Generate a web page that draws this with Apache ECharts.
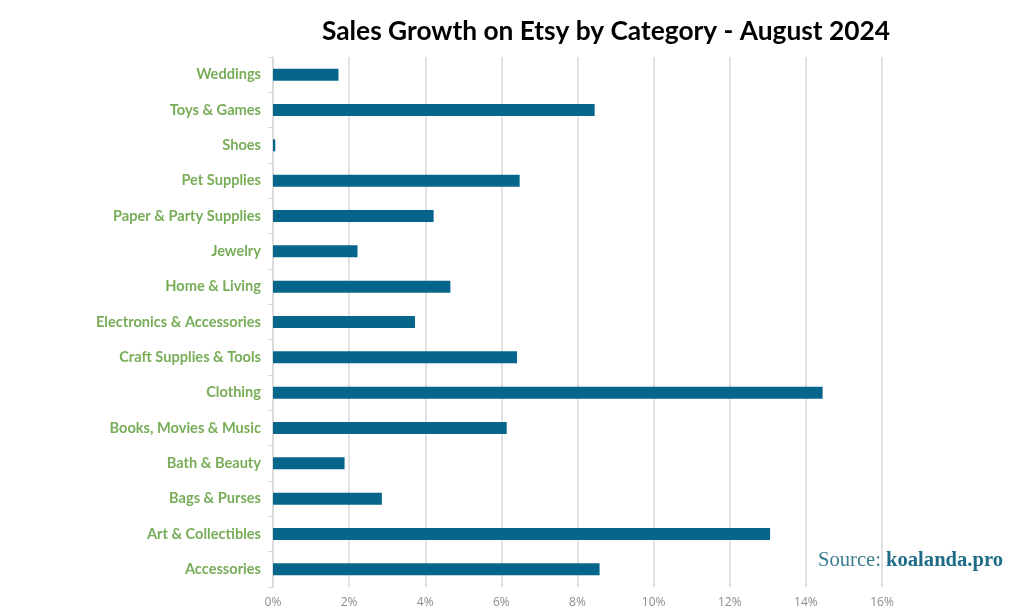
<!DOCTYPE html>
<html><head><meta charset="utf-8">
<script src="https://cdn.jsdelivr.net/npm/echarts@6/dist/echarts.min.js"></script>
<style>html,body{margin:0;padding:0;background:#fff}#c{width:1024px;height:614px}</style>
</head><body><div id="c"></div>
<script>
const categories = ["Accessories","Art & Collectibles","Bags & Purses","Bath & Beauty","Books, Movies & Music","Clothing","Craft Supplies & Tools","Electronics & Accessories","Home & Living","Jewelry","Paper & Party Supplies","Pet Supplies","Shoes","Toys & Games","Weddings"];
const growth = [8.58, 13.06, 2.86, 1.88, 6.14, 14.44, 6.41, 3.73, 4.66, 2.22, 4.22, 6.48, 0.06, 8.45, 1.72];
const titleText = "Sales Growth on Etsy by Category - August 2024";

const chart = echarts.init(document.getElementById('c'), null, {renderer:'canvas'});
chart.setOption({
  backgroundColor:'#fff',
  animation:false,
  title:{
    text:titleText, left:601, textAlign:'center', top:14,
    textStyle:{fontFamily:'Lato, "Open Sans", sans-serif', fontWeight:'bold', fontSize:26.3, color:'#000'}
  },
  grid:{left:273, right:142, top:57, bottom:27, containLabel:false},
  xAxis:{
    type:'value', min:0, max:16, interval:2,
    axisLine:{show:false}, axisTick:{show:false},
    splitLine:{lineStyle:{color:'#d9d9d9', width:1.5}},
    axisLabel:{formatter:v=>v+'%', color:'#8c8c8c', fontSize:12, fontFamily:'"Open Sans", sans-serif', margin:10}
  },
  yAxis:{
    type:'category', data:categories,
    axisLine:{show:true, lineStyle:{color:'#d9d9d9', width:1.5}},
    axisTick:{show:true, length:5, lineStyle:{color:'#d9d9d9'}},
    axisLabel:{color:'#78ad58', fontWeight:'bold', fontSize:14.6, fontFamily:'Lato, "Open Sans", sans-serif', margin:12}
  },
  series:[{
    type:'bar', data:growth, barWidth:12,
    itemStyle:{color:'#05658b'}
  }],
  graphic:[{
    type:'text', right:21, top:550,
    style:{
      rich:{
        a:{fontFamily:'"Liberation Serif", "DejaVu Serif", serif', fontSize:20.6, fill:'#3a7d93', fontWeight:'normal'},
        b:{fontFamily:'"Liberation Serif", "DejaVu Serif", serif', fontSize:20.6, fill:'#1f6c87', fontWeight:'bold'}
      },
      text:'{a|Source: }{b|koalanda.pro}'
    }
  }]
});
</script></body></html>
